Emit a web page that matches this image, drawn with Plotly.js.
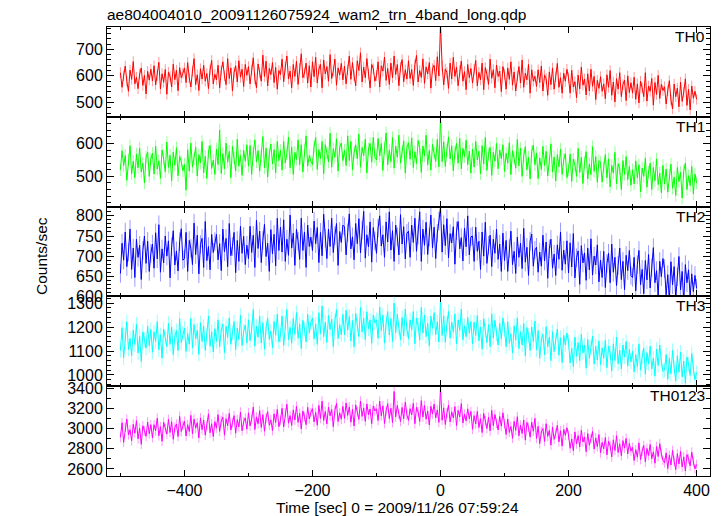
<!DOCTYPE html>
<html><head><meta charset="utf-8">
<script src="https://cdn.plot.ly/plotly-3.0.1.min.js"></script>
<style>html,body{margin:0;padding:0;background:#fff}#chart{width:723px;height:516px}</style>
</head><body><div id="chart"></div>
<script>
const titleText = "ae804004010_20091126075924_wam2_trn_4band_long.qdp";
const xTitle = "Time [sec] 0 = 2009/11/26 07:59:24";
const yTitle = "Counts/sec";
const bandNames = ["TH0", "TH1", "TH2", "TH3", "TH0123"];
const bandColors = ["#ff0000", "#00ff00", "#0000ff", "#00ffff", "#ff00ff"];
const errColors = ["rgba(255,0,0,0.4)", "rgba(0,255,0,0.4)", "rgba(0,0,255,0.4)", "rgba(0,255,255,0.4)", "rgba(255,0,255,0.4)"];
const timeStart = -500;
const timeStep = 2.5;
const bandErrors = [20, 19, 23, 30, 48];

const th0 = [
612,557,600,637,580,542,622,587,654,570,595,552,607,630,564,602,532,617,584,625,
581,638,566,601,651,551,608,576,624,531,614,598,558,644,586,621,544,631,593,610,
630,575,650,592,558,618,665,567,604,545,627,588,640,580,609,552,622,658,570,606,
585,640,555,620,653,600,567,665,590,630,543,613,638,577,657,595,625,560,643,602,
635,570,622,668,588,555,645,612,580,678,598,655,562,628,605,650,575,632,550,620,
605,663,578,633,675,588,618,555,643,598,655,568,628,683,593,611,648,573,638,558,
653,597,670,573,625,643,555,660,607,635,580,680,590,618,663,565,630,603,647,585,
637,570,623,675,587,650,600,563,657,620,687,577,633,593,665,607,555,643,627,580,
601,653,558,638,618,671,583,628,568,648,593,675,605,643,563,633,661,578,623,588,
657,590,624,564,642,677,577,620,594,664,572,634,607,650,554,627,640,582,672,600,
795,638,566,626,613,553,648,588,670,598,633,563,620,656,580,616,548,643,593,628,
573,625,658,563,613,585,648,548,631,606,568,663,591,623,555,641,598,618,541,635,
607,550,630,587,653,565,615,543,600,635,573,660,557,610,585,643,535,623,580,598,
560,623,575,637,543,603,590,527,615,567,630,550,597,647,557,593,535,610,580,625,
593,535,621,558,578,518,603,551,633,565,588,528,608,543,625,561,598,511,583,553,
597,542,570,514,604,557,620,527,577,502,590,550,612,522,567,584,507,600,537,574,
535,595,512,570,498,580,555,522,612,505,562,542,590,490,575,530,602,515,568,545,
559,494,544,582,509,476,569,522,554,484,576,504,539,589,489,549,472,562,516,542,
512];

const th1 = [
520,578,533,563,488,550,593,508,546,496,568,526,586,513,540,480,558,573,500,553,
570,507,592,522,547,494,580,552,514,604,527,564,487,574,534,587,502,560,545,517,
536,458,581,516,601,528,554,588,501,566,541,606,511,561,494,574,594,524,549,506,
583,536,641,509,569,523,601,543,576,496,591,556,516,613,531,563,503,579,546,596,
531,594,506,571,611,544,578,516,561,621,526,586,498,566,598,538,581,511,606,548,
579,519,606,541,569,619,526,589,506,573,551,611,536,596,513,581,623,531,563,546,
536,591,618,521,581,554,606,508,596,571,544,631,528,584,558,614,516,588,601,548,
580,533,623,548,606,520,573,596,553,628,528,588,563,613,510,583,600,543,618,558,
550,615,562,600,518,585,632,535,580,545,618,525,592,558,625,540,575,608,510,588,
602,552,617,527,575,539,609,587,512,592,562,625,535,579,519,597,570,545,612,529,
682,545,605,530,580,620,553,593,517,573,600,540,615,523,585,560,610,535,577,510,
583,528,606,550,576,508,593,538,618,518,568,588,503,573,546,600,523,580,553,596,
515,570,540,602,505,578,555,525,612,532,585,500,562,590,520,558,492,575,595,535,
571,493,556,521,591,533,576,501,546,599,513,559,486,566,529,583,506,551,569,496,
520,568,485,552,535,500,585,512,558,478,542,575,492,538,505,590,515,560,482,548,
543,483,528,566,496,553,468,533,510,573,478,538,523,460,548,506,560,490,530,473,
520,477,547,495,535,453,525,500,555,467,513,540,460,527,487,553,475,510,450,533,
477,522,452,504,537,464,497,442,527,484,512,434,517,540,460,502,472,530,447,507,
480];

const th2 = [
657,732,690,760,674,710,767,667,720,647,742,697,727,642,714,750,682,737,662,707,
730,670,758,693,778,660,718,683,750,700,738,646,723,763,678,713,663,736,768,690,
694,759,662,739,719,679,782,704,752,656,729,744,672,786,689,724,666,754,709,736,
754,691,731,664,767,711,744,674,781,701,724,759,659,739,687,774,707,749,679,727,
694,774,709,752,672,789,719,762,684,739,779,699,732,662,766,706,754,676,794,714,
772,710,790,687,742,702,802,720,757,677,767,737,692,794,714,760,672,777,724,747,
714,787,731,771,684,759,701,804,744,694,767,724,794,709,751,781,677,761,734,777,
773,703,758,805,718,748,691,781,731,793,708,765,811,695,753,723,785,685,771,738,
707,770,800,725,753,697,785,735,810,715,763,687,777,748,703,803,730,773,693,757,
762,697,777,734,794,712,752,810,687,767,727,784,704,747,802,720,772,694,757,787,
822,710,778,726,793,696,756,733,773,680,763,786,718,746,688,770,723,800,703,748,
750,687,772,712,737,667,760,700,784,682,727,752,674,742,707,767,692,730,662,757,
689,739,662,719,762,679,712,657,747,697,732,669,769,685,722,652,737,755,675,715,
722,660,710,675,752,688,735,645,718,742,670,705,652,728,692,760,665,715,680,738,
658,733,673,756,646,696,713,630,726,683,708,640,720,666,743,653,700,678,728,636,
690,647,712,622,682,707,634,730,660,697,627,677,720,642,687,617,702,664,714,652,
647,697,614,679,714,629,667,607,689,641,704,621,671,721,634,664,601,687,649,694,
669,604,654,589,686,629,674,596,649,699,616,662,586,679,634,666,599,656,612,652,
620];

const th3 = [
1102,1197,1072,1167,1222,1107,1152,1080,1187,1127,1212,1092,1162,1057,1180,1147,1112,1204,1122,1190,
1095,1180,1140,1222,1105,1168,1070,1192,1155,1118,1215,1128,1200,1085,1162,1185,1102,1235,1135,1175,
1196,1098,1173,1128,1236,1113,1210,1150,1186,1086,1218,1140,1203,1103,1166,1246,1120,1180,1096,1193,
1140,1230,1118,1188,1213,1093,1203,1156,1238,1128,1176,1223,1106,1196,1148,1248,1123,1183,1208,1133,
1230,1143,1190,1273,1120,1203,1158,1246,1133,1218,1108,1196,1238,1148,1183,1113,1223,1166,1253,1138,
1166,1246,1123,1218,1273,1148,1198,1133,1236,1170,1260,1153,1213,1110,1228,1191,1138,1253,1176,1220,
1238,1150,1213,1128,1260,1173,1288,1160,1220,1136,1248,1190,1233,1118,1226,1273,1153,1210,1168,1253,
1167,1270,1187,1244,1142,1227,1117,1257,1210,1160,1282,1180,1237,1147,1264,1192,1230,1132,1250,1217,
1230,1153,1283,1185,1250,1133,1217,1265,1167,1235,1140,1300,1177,1253,1195,1147,1240,1163,1275,1190,
1152,1230,1188,1265,1130,1238,1208,1145,1282,1175,1250,1160,1215,1122,1245,1195,1260,1168,1222,1138,
1320,1165,1247,1137,1213,1265,1153,1220,1180,1255,1130,1230,1187,1275,1147,1205,1160,1240,1175,1223,
1130,1220,1165,1248,1142,1200,1108,1235,1185,1135,1210,1118,1255,1155,1228,1170,1125,1215,1150,1238,
1190,1118,1222,1132,1172,1092,1205,1145,1238,1110,1180,1125,1215,1080,1198,1165,1102,1200,1140,1225,
1105,1185,1070,1148,1170,1085,1202,1118,1158,1060,1180,1098,1138,1192,1082,1155,1052,1165,1125,1175,
1138,1050,1112,1035,1158,1078,1135,1060,1170,1092,1125,1028,1148,1070,1115,1162,1045,1120,1062,1142,
1043,1113,1070,1145,1030,1120,1093,1017,1130,1060,1157,1047,1103,1025,1125,1075,1140,1037,1107,1055,
1100,1013,1085,1035,1130,1020,1075,1113,1003,1093,1047,1120,1025,1070,995,1107,1040,1125,1057,1015,
1020,1085,982,1070,1005,1102,1030,975,1080,1012,1095,992,1058,965,1075,1045,998,1090,1025,980,
1010];

const th0123 = [
2915,3060,2865,3015,3095,2940,2990,2880,3045,2955,3080,2900,3005,2845,3030,2980,2925,3067,2950,3040,
2910,3040,2980,3105,2930,3020,2875,3065,3003,2947,3093,2963,3070,2895,3013,3047,2923,3123,2973,3033,
3076,2928,3040,2973,3133,2950,3096,3006,3060,2910,3108,2990,3086,2936,3030,3148,2960,3050,2923,3070,
3006,3140,2973,3078,3116,2936,3100,3030,3153,2988,3060,3130,2956,3090,3018,3166,2980,3070,3108,2996,
3158,3028,3098,3215,2992,3118,3050,3180,3012,3140,2975,3108,3170,3035,3088,2982,3148,3062,3192,3020,
3083,3203,3017,3160,3243,3055,3130,3033,3187,3087,3223,3063,3153,2997,3175,3120,3040,3213,3097,3163,
3200,3068,3162,3035,3232,3102,3275,3082,3172,3048,3215,3128,3192,3020,3182,3252,3072,3158,3095,3222,
3103,3257,3133,3217,3065,3193,3027,3237,3167,3093,3275,3123,3207,3073,3247,3140,3197,3050,3227,3177,
3198,3082,3275,3130,3228,3052,3178,3250,3102,3205,3062,3370,3118,3232,3145,3072,3212,3098,3265,3138,
3083,3200,3137,3253,3050,3213,3167,3073,3280,3117,3230,3095,3177,3037,3223,3147,3245,3107,3187,3063,
3410,3085,3208,3042,3158,3235,3068,3168,3108,3220,3032,3182,3118,3250,3058,3145,3078,3198,3100,3172,
2995,3130,3048,3172,3012,3100,2962,3152,3078,3002,3115,2978,3182,3032,3142,3055,2988,3122,3025,3158,
3050,2943,3097,2963,3023,2905,3073,2983,3120,2930,3035,2953,3087,2887,3063,3013,2917,3065,2975,3103,
2904,3024,2852,2970,3002,2874,3050,2924,2984,2837,3017,2894,2954,3034,2870,2980,2827,2994,2934,3010,
2938,2805,2898,2782,2968,2848,2932,2820,2985,2868,2918,2772,2952,2835,2902,2972,2798,2910,2822,2942,
2760,2864,2800,2912,2740,2874,2834,2720,2890,2784,2930,2764,2850,2732,2882,2807,2904,2750,2854,2777,
2814,2684,2792,2717,2860,2694,2777,2834,2670,2804,2734,2844,2702,2770,2657,2824,2724,2852,2750,2687,
2662,2760,2604,2737,2640,2784,2677,2594,2752,2650,2774,2620,2720,2580,2744,2700,2630,2767,2670,2602,
2645];

const bandValues = [th0, th1, th2, th3, th0123];
const yRanges = [[446, 784], [408, 681], [600, 823], [953, 1328], [2530, 3423]];
const yDticks = [100, 100, 50, 100, 200];
const yMinor = [20, 20, 10, 20, 100];
const xRange = [-521, 421];

const FONT = "Liberation Sans, Arial, Helvetica, sans-serif";
const traces = [];
const layout = {
  width: 723, height: 516,
  margin: {l: 107, r: 13, t: 27, b: 40},
  paper_bgcolor: "#fff", plot_bgcolor: "#fff",
  showlegend: false,
  font: {family: FONT, color: "#000", size: 15.5},
  title: {text: titleText, font: {family: FONT, size: 15.5, color: "#000"},
          xref: "paper", x: 0, xanchor: "left", yref: "container", y: 0.983, yanchor: "top", pad: {t: 0, b: 0, l: 0, r: 0}},
  annotations: []
};

bandValues.forEach((vals, k) => {
  const n = k + 1;
  const xa = n === 1 ? "x" : "x" + n;
  const ya = n === 1 ? "y" : "y" + n;
  traces.push({
    type: "scatter", mode: "lines",
    x: vals.map((_, i) => timeStart + i * timeStep),
    y: vals,
    xaxis: xa, yaxis: ya,
    line: {color: bandColors[k], width: 1},
    error_y: {type: "constant", value: bandErrors[k], color: errColors[k], thickness: 1, width: 0},
    hoverinfo: "skip"
  });
  const top = 1 - k * 0.2, bot = 1 - (k + 1) * 0.2;
  layout[n === 1 ? "xaxis" : "xaxis" + n] = {
    domain: [0, 1], anchor: ya, range: xRange,
    showline: true, linecolor: "#000", linewidth: 1, mirror: "ticks",
    ticks: "inside", ticklen: 6, tickcolor: "#000", tickwidth: 1,
    dtick: 200, tick0: 0,
    minor: {dtick: 100, ticks: "inside", ticklen: 3, tickcolor: "#000"},
    showgrid: false, zeroline: false,
    showticklabels: n === 5,
    tickfont: {family: FONT, size: 16, color: "#000"},
    matches: n === 1 ? undefined : "x"
  };
  layout[n === 1 ? "yaxis" : "yaxis" + n] = {
    domain: [bot, top], anchor: xa, range: yRanges[k],
    showline: true, linecolor: "#000", linewidth: 1, mirror: "ticks",
    ticks: "inside", ticklen: 7, tickcolor: "#000", tickwidth: 1,
    dtick: yDticks[k], tick0: 0,
    minor: {dtick: yMinor[k], ticks: "inside", ticklen: 4, tickcolor: "#000"},
    showgrid: false, zeroline: false,
    tickfont: {family: FONT, size: 16, color: "#000"}
  };
  layout.annotations.push({
    text: bandNames[k], showarrow: false,
    xref: xa + " domain", yref: ya + " domain", x: 0.995, y: 1,
    xanchor: "right", yanchor: "top", yshift: 1,
    font: {family: FONT, size: 15.5, color: "#000"}
  });
});

layout.annotations.push({
  text: xTitle, showarrow: false, xref: "paper", yref: "paper",
  x: (397.5 - 107) / 603, y: 0, yshift: -42, xanchor: "center", yanchor: "bottom",
  font: {family: FONT, size: 15.5, color: "#000"}
});
layout.annotations.push({
  text: yTitle, showarrow: false, xref: "paper", yref: "paper", textangle: -90,
  x: (41 - 107) / 603, y: 1 - (256 - 27) / 449, xanchor: "center", yanchor: "middle",
  font: {family: FONT, size: 15.5, color: "#000"}
});

Plotly.newPlot("chart", traces, layout, {displayModeBar: false, staticPlot: true});
</script></body></html>
